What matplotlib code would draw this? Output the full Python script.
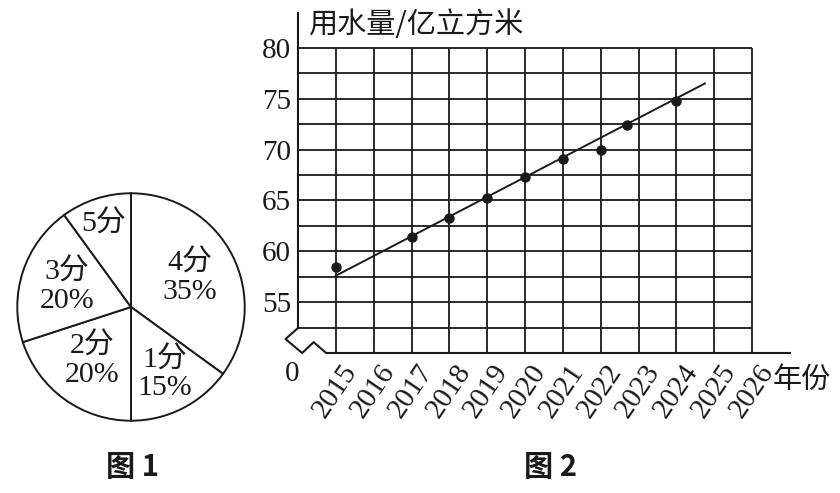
import matplotlib.pyplot as plt
import matplotlib.transforms as mtransforms
import numpy as np

plt.rcParams['font.family'] = ['Liberation Serif', 'Noto Sans CJK SC']

# ---- data ----
score_labels = ['4分', '1分', '2分', '3分', '5分']
score_share = [35, 15, 20, 20, 10]
share_text = ['35%', '15%', '20%', '20%', '']
label_dist = [0.58, 0.66, 0.58, 0.59, 0.77]

years = [2015, 2017, 2018, 2019, 2020, 2021, 2022, 2022.7, 2024]
usage = [58.5, 61.4, 63.3, 65.2, 67.3, 69.1, 70.0, 72.4, 74.8]
trend_years = [2015, 2024.75]
trend_usage = [57.6, 76.5]
year_ticks = list(range(2015, 2027))
usage_ticks = [55, 60, 65, 70, 75, 80]
grid_rows = np.arange(52.5, 80.1, 2.5)

ink = '#1a1a1a'
W, H = 840, 493
fig = plt.figure(figsize=(W / 100, H / 100), dpi=100)

# ---- figure 1: pie ----
ax1 = fig.add_axes([15 / W, (H - 307 - 116) / H, 232 / W, 232 / H])
wedges, _ = ax1.pie(score_share, startangle=90, counterclock=False, radius=1,
                    wedgeprops=dict(facecolor='white', edgecolor=ink, linewidth=1.4))
for w, lab, pct, d in zip(wedges, score_labels, share_text, label_dist):
    th = np.deg2rad((w.theta1 + w.theta2) / 2)
    txt = lab if pct == '' else lab + '\n' + pct
    ax1.text(d * np.cos(th), d * np.sin(th), txt, ha='center', va='center',
             fontsize=21.5, color=ink, linespacing=1.1)
ax1.set_xlim(-1.02, 1.02)
ax1.set_ylim(-1.02, 1.02)
ax1.set_aspect('equal')

# ---- figure 2: line chart ----
ax2 = fig.add_axes([298 / W, (H - 353) / H, 492 / W, 340 / H])
ax2.set_xlim(2014, 2027)
ax2.set_ylim(50, 83.43)
for s in ax2.spines.values():
    s.set_visible(False)

ax2.hlines(grid_rows, 2014, 2026, color=ink, lw=1.3)
ax2.vlines(year_ticks, 50, 80, color=ink, lw=1.3)
ax2.plot(trend_years, trend_usage, color=ink, lw=1.4)
ax2.plot(years, usage, 'o', color=ink, ms=6.5)

# axes with break mark
brk_x = [0, -0.0254, 0.0085, 0.0318, 0.0572, 1]
brk_y = [0.0735, 0.041, 0, 0.032, 0, 0]
ax2.plot(brk_x, brk_y, color=ink, lw=1.5, transform=ax2.transAxes, clip_on=False)
ax2.plot([0, 0], [0.0735, 1], color=ink, lw=1.5, transform=ax2.transAxes, clip_on=False)

ax2.set_yticks(usage_ticks)
ax2.set_yticklabels([str(v) for v in usage_ticks])
ax2.tick_params(axis='y', length=0, pad=5, labelsize=21, labelcolor=ink)
ax2.set_xticks([])

trans = mtransforms.blended_transform_factory(ax2.transData, ax2.transAxes)
shift = mtransforms.ScaledTranslation(5 / 100, -7 / 100, fig.dpi_scale_trans)
for yr in year_ticks:
    ax2.text(yr, 0, str(yr), transform=trans + shift, rotation=56,
             rotation_mode='anchor', ha='right', va='top', fontsize=21, color=ink)

fig.text(292 / W, 1 - 374 / H, '0', ha='center', va='center', fontsize=21, color=ink)
fig.text(308 / W, 1 - 25 / H, '用水量/亿立方米', ha='left', va='center',
         fontsize=21, color=ink, family=['Noto Sans CJK SC'])
fig.text(773 / W, 1 - 380 / H, '年份', ha='left', va='center',
         fontsize=21, color=ink, family=['Noto Sans CJK SC'])

fig.text(133 / W, 1 - 467 / H, '图 1', ha='center', va='center', fontsize=21,
         fontweight='bold', color=ink, family=['Noto Sans CJK SC', 'Liberation Serif'])
fig.text(550 / W, 1 - 467 / H, '图 2', ha='center', va='center', fontsize=21,
         fontweight='bold', color=ink, family=['Noto Sans CJK SC', 'Liberation Serif'])

fig.savefig('out.png', dpi=100)
